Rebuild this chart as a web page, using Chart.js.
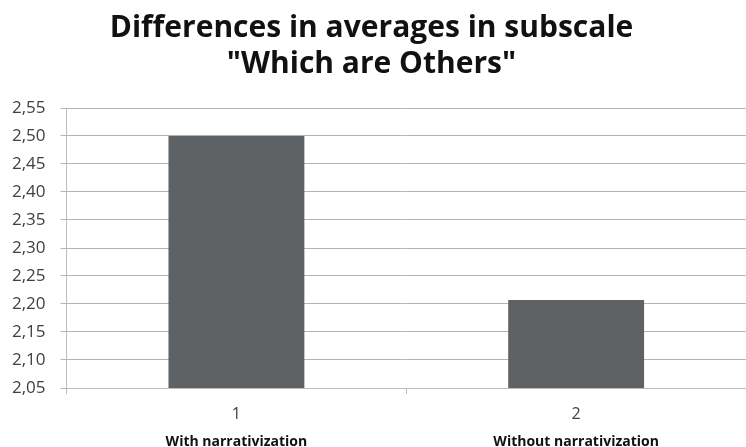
<!DOCTYPE html>
<html>
<head>
<meta charset="utf-8">
<script src="https://cdn.jsdelivr.net/npm/chart.js@4/dist/chart.umd.min.js"></script>
<style>
  html, body { margin: 0; padding: 0; background: #fff; }
  #wrap { width: 746px; height: 447px; }
</style>
</head>
<body>
<div id="wrap"><canvas id="c" width="746" height="447"></canvas></div>
<script>
const titleLines = ['Differences in averages in subscale', '"Which are Others"'];
const categories = ['1', '2'];
const groupNames = ['With narrativization', 'Without narrativization'];
const averages = [2.50, 2.207];
const yMin = 2.05, yMax = 2.55, yStep = 0.05;

new Chart(document.getElementById('c'), {
  type: 'bar',
  data: {
    labels: categories,
    datasets: [{
      data: averages,
      backgroundColor: '#5f6264',
      borderWidth: 0,
      barPercentage: 0.4,
      categoryPercentage: 1.0,
      xAxisID: 'x'
    }]
  },
  options: {
    responsive: false,
    animation: false,
    layout: { padding: { left: -3, right: 0, top: 4, bottom: -3 } },
    plugins: {
      legend: { display: false },
      tooltip: { enabled: false },
      title: {
        display: true,
        text: titleLines,
        color: '#111',
        font: { family: 'Open Sans', size: 30, weight: 'bold', lineHeight: 1.2 },
        padding: { top: 6, bottom: 26 }
      }
    },
    scales: {
      x: {
        type: 'category',
        position: 'bottom',
        grid: { display: true, drawOnChartArea: false, offset: true, tickLength: 6, color: '#bdbdbd' },
        border: { display: true, color: '#bdbdbd' },
        ticks: { color: '#404040', font: { family: 'Open Sans', size: 16, lineHeight: 1.0 }, padding: 12 }
      },
      x2: {
        type: 'category',
        labels: groupNames,
        position: 'bottom',
        grid: { display: false, drawTicks: false },
        border: { display: false },
        ticks: { color: '#111', font: { family: 'Open Sans', size: 14, weight: 'bold', lineHeight: 1.0 }, padding: 1 }
      },
      y: {
        min: yMin,
        max: yMax,
        grid: { color: '#b4b4b4', tickLength: 6, lineWidth: 1 },
        border: { display: true, color: '#bdbdbd' },
        ticks: {
          stepSize: yStep,
          color: '#404040',
          font: { family: 'Open Sans', size: 17 },
          padding: 15,
          callback: v => v.toFixed(2).replace('.', ',')
        }
      }
    }
  }
});
</script>
</body>
</html>
